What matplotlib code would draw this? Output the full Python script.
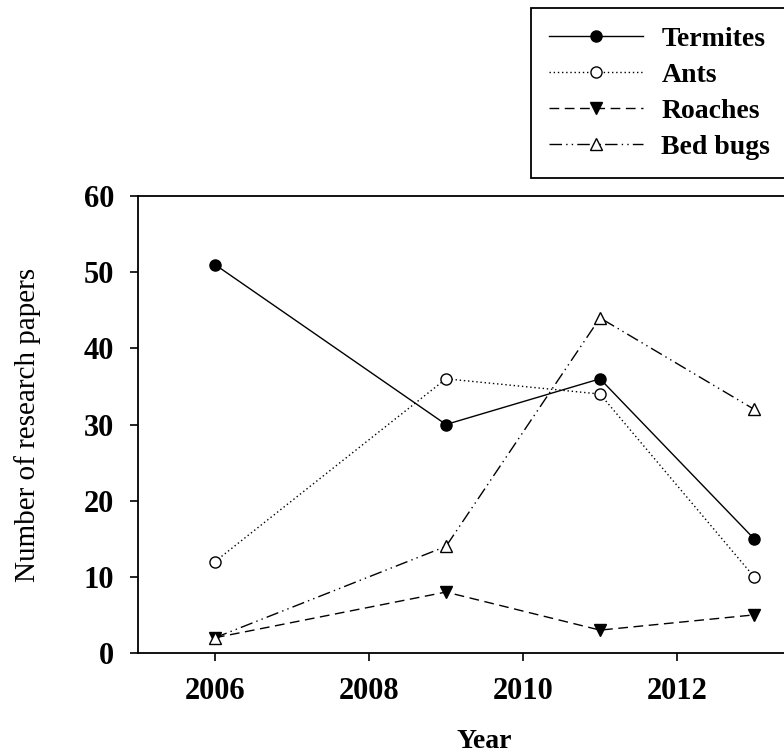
import matplotlib.pyplot as plt

# Research papers per insect group
years = [2006, 2009, 2011, 2013]
termites = [51, 30, 36, 15]
ants = [12, 36, 34, 10]
roaches = [2, 8, 3, 5]
bed_bugs = [2, 14, 44, 32]

x_ticks = [2006, 2008, 2010, 2012]
y_ticks = [0, 10, 20, 30, 40, 50, 60]

plt.rcParams["font.family"] = ["Liberation Serif", "DejaVu Serif"]
plt.rcParams["font.weight"] = "bold"

fig = plt.figure(figsize=(7.84, 7.54), dpi=100)
ax = fig.add_axes([0.176, 0.134, 0.884, 0.606])

ax.plot(years, termites, color="black", linestyle="-", linewidth=1.0,
        marker="o", markersize=8, markerfacecolor="black", label="Termites")
ax.plot(years, ants, color="black", linestyle=(0, (1, 2)), linewidth=1.0,
        marker="o", markersize=8, markerfacecolor="white", label="Ants")
ax.plot(years, roaches, color="black", linestyle=(0, (7, 4)), linewidth=1.0,
        marker="v", markersize=9, markerfacecolor="black", label="Roaches")
ax.plot(years, bed_bugs, color="black", linestyle=(0, (9, 3, 1, 3, 1, 3)),
        linewidth=1.0, marker="^", markersize=9, markerfacecolor="white",
        label="Bed bugs")

ax.set_xlim(2005, 2014)
ax.set_ylim(0, 60)
ax.set_xticks(x_ticks)
ax.set_yticks(y_ticks)
ax.tick_params(axis="both", direction="out", length=6, width=1.2,
               labelsize=22, pad=11)
for side in ax.spines.values():
    side.set_linewidth(1.3)

ax.set_xlabel("Year", fontsize=20, fontweight="bold", labelpad=17)
ax.set_ylabel("Number of research papers", fontsize=21, fontweight="normal",
              labelpad=31)

leg = ax.legend(loc="upper left", bbox_to_anchor=(0.677, 0.989),
                bbox_transform=fig.transFigure, fontsize=20, frameon=True,
                fancybox=False, edgecolor="black", handlelength=3.4,
                handletextpad=0.65, labelspacing=0.38, borderpad=0.65,
                borderaxespad=0)
leg.get_frame().set_linewidth(1.3)
leg.get_frame().set_alpha(1)

fig.savefig("out.png", dpi=100)
